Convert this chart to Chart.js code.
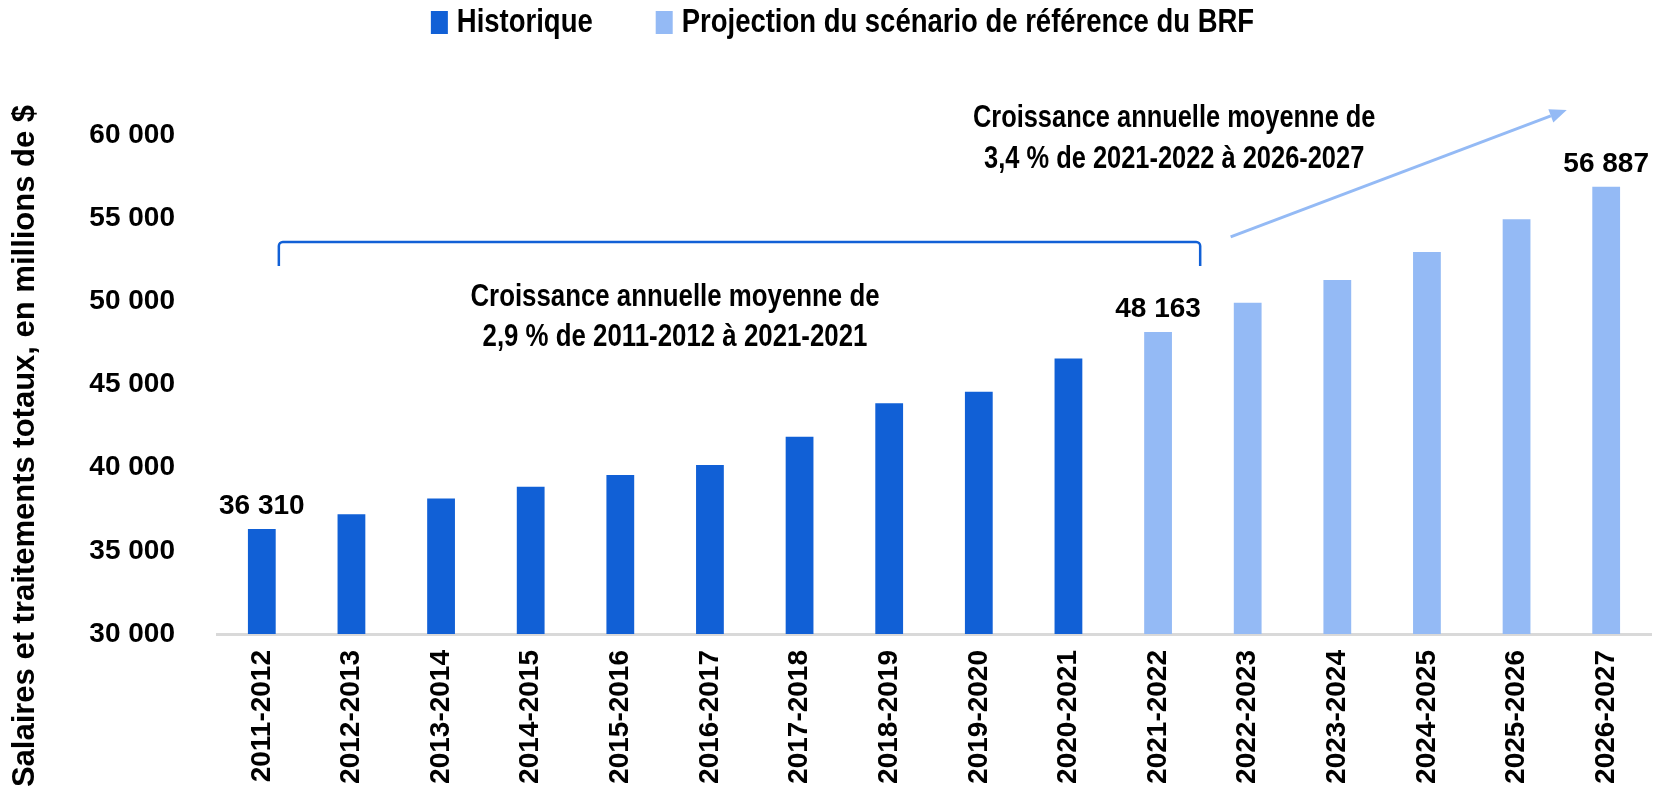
<!DOCTYPE html>
<html lang="fr">
<head>
<meta charset="utf-8">
<title>Salaires et traitements totaux</title>
<script src="https://cdn.jsdelivr.net/npm/chart.js@4.4.1/dist/chart.umd.min.js"></script>
<style>
    html, body { margin: 0; padding: 0; background: #fff; }
</style>
</head>
<body>
<canvas id="salaryChart" width="1665" height="788"></canvas>
<script>
const categories = ['2011-2012', '2012-2013', '2013-2014', '2014-2015', '2015-2016', '2016-2017',
    '2017-2018', '2018-2019', '2019-2020', '2020-2021', '2021-2022', '2022-2023',
    '2023-2024', '2024-2025', '2025-2026', '2026-2027'];
const historique = [36310, 37200, 38140, 38860, 39560, 40160, 41860, 43870, 44570, 46560,
    null, null, null, null, null, null];
const projection = [null, null, null, null, null, null, null, null, null, null,
    48163, 49920, 51290, 52970, 54940, 56887];
const yTicks = [30000, 35000, 40000, 45000, 50000, 55000, 60000];
const labelledBars = [0, 10, 15];
const legendLabels = ['Historique', 'Projection du scénario de référence du BRF'];
const noteHistorique = ['Croissance annuelle moyenne de', '2,9 % de 2011-2012 à 2021-2021'];
const noteProjection = ['Croissance annuelle moyenne de', '3,4 % de 2021-2022 à 2026-2027'];
const yTitle = 'Salaires et traitements totaux, en millions de $';

const DARK = '#1160d6';
const LIGHT = '#94baf5';

function formatNumber(v) {
    return String(v).replace(/\B(?=(\d{3})+(?!\d))/g, ' ');
}

// is the narrow font installed? otherwise squeeze Liberation Sans
function hasFont(name) {
    const c = document.createElement('canvas').getContext('2d');
    c.font = '40px monospace';
    const base = c.measureText('Historique BRF 2021').width;
    c.font = '40px "' + name + '", monospace';
    return c.measureText('Historique BRF 2021').width !== base;
}
const NARROW = hasFont('Liberation Sans Narrow');

function narrowWidth(ctx, text, size) {
    ctx.save();
    if (NARROW) {
        ctx.font = 'bold ' + size + 'px "Liberation Sans Narrow"';
        const w = ctx.measureText(text).width;
        ctx.restore();
        return w;
    }
    ctx.font = 'bold ' + size + 'px "Liberation Sans", Arial, sans-serif';
    const w = ctx.measureText(text).width * 0.82;
    ctx.restore();
    return w;
}

function narrowText(ctx, text, x, y, size, align) {
    ctx.save();
    ctx.fillStyle = '#000';
    ctx.textBaseline = 'middle';
    ctx.textAlign = align || 'center';
    if (NARROW) {
        ctx.font = 'bold ' + size + 'px "Liberation Sans Narrow"';
        ctx.fillText(text, x, y);
    } else {
        ctx.font = 'bold ' + size + 'px "Liberation Sans", Arial, sans-serif';
        ctx.translate(x, y);
        ctx.scale(0.82, 1);
        ctx.fillText(text, 0, 0);
    }
    ctx.restore();
}

const extrasPlugin = {
    id: 'extras',
    afterDraw(chart) {
        const ctx = chart.ctx;
        const x = chart.scales.x;
        const y = chart.scales.y;

        // legend
        const boxW = 17, boxH = 23, gapBox = 9, gapItem = 63, size = 33.5;
        const w0 = narrowWidth(ctx, legendLabels[0], size);
        const w1 = narrowWidth(ctx, legendLabels[1], size);
        const total = boxW + gapBox + w0 + gapItem + boxW + gapBox + w1;
        let lx = chart.width / 2 + 10 - total / 2;
        ctx.fillStyle = DARK;
        ctx.fillRect(lx, 11, boxW, boxH);
        narrowText(ctx, legendLabels[0], lx + boxW + gapBox, 23, size, 'left');
        lx += boxW + gapBox + w0 + gapItem;
        ctx.fillStyle = LIGHT;
        ctx.fillRect(lx, 11, boxW, boxH);
        narrowText(ctx, legendLabels[1], lx + boxW + gapBox, 23, size, 'left');

        // y axis title
        ctx.save();
        ctx.translate(25, 446);
        ctx.rotate(-Math.PI / 2);
        ctx.font = 'bold 31px "Liberation Sans", Arial, sans-serif';
        ctx.fillStyle = '#000';
        ctx.textAlign = 'center';
        ctx.textBaseline = 'middle';
        ctx.fillText(yTitle, 0, 0);
        ctx.restore();

        // value labels above some bars
        ctx.save();
        ctx.font = 'bold 28px "Liberation Sans", Arial, sans-serif';
        ctx.fillStyle = '#000';
        ctx.textAlign = 'center';
        ctx.textBaseline = 'alphabetic';
        labelledBars.forEach(i => {
            const dsIndex = historique[i] !== null ? 0 : 1;
            const bar = chart.getDatasetMeta(dsIndex).data[i];
            const v = dsIndex === 0 ? historique[i] : projection[i];
            ctx.fillText(formatNumber(v), bar.x, bar.y - 15);
        });
        ctx.restore();

        // bracket over the historical bars
        const bl = x.getPixelForValue(0.19), br = x.getPixelForValue(10.47);
        const bt = y.getPixelForValue(53570), bb = y.getPixelForValue(52130);
        ctx.save();
        ctx.strokeStyle = DARK;
        ctx.lineWidth = 2.5;
        ctx.lineJoin = 'round';
        ctx.beginPath();
        ctx.moveTo(bl, bb);
        ctx.arcTo(bl, bt, bl + 10, bt, 4);
        ctx.arcTo(br, bt, br, bb, 4);
        ctx.lineTo(br, bb);
        ctx.stroke();
        ctx.restore();

        // arrow for the projection
        const ax0 = x.getPixelForValue(10.81), ay0 = y.getPixelForValue(53870);
        const ax1 = x.getPixelForValue(14.56), ay1 = y.getPixelForValue(61510);
        const ang = Math.atan2(ay1 - ay0, ax1 - ax0);
        const headLen = 17, headW = 7;
        ctx.save();
        ctx.strokeStyle = LIGHT;
        ctx.fillStyle = LIGHT;
        ctx.lineWidth = 3;
        ctx.beginPath();
        ctx.moveTo(ax0, ay0);
        ctx.lineTo(ax1 - Math.cos(ang) * headLen, ay1 - Math.sin(ang) * headLen);
        ctx.stroke();
        ctx.translate(ax1, ay1);
        ctx.rotate(ang);
        ctx.beginPath();
        ctx.moveTo(0, 0);
        ctx.lineTo(-headLen, -headW);
        ctx.lineTo(-headLen, headW);
        ctx.closePath();
        ctx.fill();
        ctx.restore();

        // growth notes
        const n1x = x.getPixelForValue(4.61);
        narrowText(ctx, noteHistorique[0], n1x, y.getPixelForValue(50265), 31.5);
        narrowText(ctx, noteHistorique[1], n1x, y.getPixelForValue(47860), 31.5);
        const n2x = x.getPixelForValue(10.18);
        narrowText(ctx, noteProjection[0], n2x, y.getPixelForValue(60968), 31);
        narrowText(ctx, noteProjection[1], n2x, y.getPixelForValue(58503), 31);
    }
};

const ctx = document.getElementById('salaryChart').getContext('2d');
const salaryChart = new Chart(ctx, {
    type: 'bar',
    data: {
        labels: categories,
        datasets: [{
            label: legendLabels[0],
            data: historique,
            backgroundColor: DARK,
            grouped: false,
            barPercentage: 0.31,
            categoryPercentage: 1
        }, {
            label: legendLabels[1],
            data: projection,
            backgroundColor: LIGHT,
            grouped: false,
            barPercentage: 0.31,
            categoryPercentage: 1
        }]
    },
    options: {
        responsive: false,
        animation: false,
        layout: {
            padding: { top: 135, right: 14, left: 0, bottom: 0 }
        },
        plugins: {
            legend: { display: false },
            tooltip: { enabled: false }
        },
        scales: {
            x: {
                grid: { display: false, drawTicks: false },
                border: { display: true, color: '#d9d9d9', width: 3 },
                ticks: {
                    color: '#000',
                    font: { family: '"Liberation Sans", Arial, sans-serif', size: 28, weight: 'bold' },
                    minRotation: 90,
                    maxRotation: 90,
                    autoSkip: false,
                    padding: 16
                },
                afterFit: scale => { scale.height = 154; }
            },
            y: {
                min: yTicks[0],
                max: yTicks[yTicks.length - 1],
                grid: { display: false, drawTicks: false },
                border: { display: false },
                afterBuildTicks: scale => {
                    scale.ticks = yTicks.map(v => ({ value: v }));
                },
                ticks: {
                    color: '#000',
                    font: { family: '"Liberation Sans", Arial, sans-serif', size: 28, weight: 'bold' },
                    padding: 42,
                    callback: v => formatNumber(v)
                },
                afterFit: scale => { scale.width = 217; }
            }
        }
    },
    plugins: [extrasPlugin]
});
</script>
</body>
</html>
